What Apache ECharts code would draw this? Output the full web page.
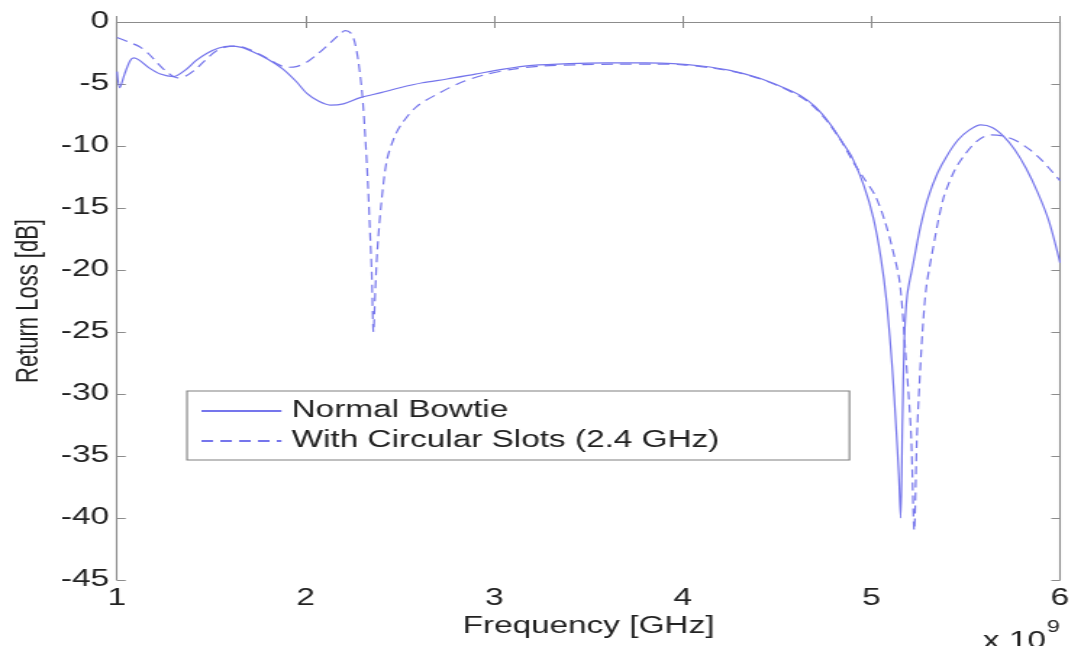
<!DOCTYPE html>
<html>
<head>
<meta charset="utf-8">
<script src="https://cdn.jsdelivr.net/npm/echarts@6/dist/echarts.min.js"></script>
<style>
  html, body { margin: 0; padding: 0; background: #ffffff; }
  #frame { width: 1081px; height: 646px; overflow: hidden; position: relative; }
  /* the figure is laid out narrow and widened, giving the broad lettering of the printed plot */
  #chart { width: 746px; height: 646px; transform-origin: 0 0; transform: scaleX(1.44906); }
</style>
</head>
<body>
<div id="frame"><div id="chart"></div></div>
<script>
// Return loss of the bowtie antenna, frequency in GHz
const freqNormal = [
  1.00, 1.015, 1.04, 1.07, 1.09, 1.12, 1.17, 1.23, 1.30, 1.36, 1.42, 1.48, 1.54, 1.60, 1.66,
  1.72, 1.80, 1.88, 1.95, 2.01, 2.07, 2.13, 2.20, 2.29, 2.40, 2.50, 2.62, 2.75, 2.90, 3.05,
  3.20, 3.40, 3.60, 3.80, 3.95, 4.10, 4.25, 4.40, 4.52, 4.62, 4.70, 4.78, 4.85, 4.90, 4.96,
  5.01, 5.05, 5.08, 5.11, 5.13, 5.145, 5.155, 5.165, 5.175, 5.19, 5.22, 5.26, 5.30, 5.35, 5.40,
  5.46, 5.52, 5.58, 5.64, 5.70, 5.76, 5.82, 5.88, 5.94, 6.00
];
const rlNormal = [
  -4.0, -5.3, -4.2, -3.1, -2.9, -3.1, -3.7, -4.2, -4.4, -3.9, -3.1, -2.5, -2.1, -1.95, -2.05,
  -2.4, -3.0, -3.8, -4.8, -5.8, -6.4, -6.7, -6.6, -6.1, -5.7, -5.3, -4.9, -4.6, -4.2, -3.8,
  -3.5, -3.35, -3.3, -3.3, -3.35, -3.55, -3.9, -4.5, -5.2, -5.9, -6.8, -8.2, -9.8, -11.0, -13.2,
  -15.8, -19.0, -22.5, -27.8, -32.5, -36.5, -40.0, -32.0, -25.5, -22.0, -19.6, -16.5, -14.2, -12.2, -10.8,
  -9.5, -8.7, -8.3, -8.5, -9.2, -10.3, -11.8, -13.7, -16.0, -19.4
];

const freqSlots = [
  1.00, 1.06, 1.12, 1.17, 1.22, 1.27, 1.32, 1.36, 1.41, 1.46, 1.52, 1.58, 1.64, 1.70, 1.77,
  1.84, 1.90, 1.95, 2.01, 2.07, 2.13, 2.18, 2.21, 2.24, 2.26, 2.28, 2.30, 2.315, 2.33, 2.34,
  2.35, 2.36, 2.37, 2.38, 2.40, 2.43, 2.47, 2.51, 2.59, 2.70, 2.82, 2.95, 3.10, 3.25, 3.45,
  3.65, 3.85, 4.00, 4.15, 4.30, 4.45, 4.57, 4.67, 4.76, 4.84, 4.90, 4.96, 5.02, 5.07, 5.11,
  5.15, 5.18, 5.21, 5.227, 5.24, 5.25, 5.27, 5.29, 5.32, 5.38, 5.44, 5.49, 5.56, 5.63, 5.70,
  5.77, 5.84, 5.90, 5.96, 6.00
];
const rlSlots = [
  -1.25, -1.6, -2.0, -2.6, -3.4, -4.1, -4.5, -4.4, -3.9, -3.2, -2.4, -2.0, -1.95, -2.2, -2.7,
  -3.3, -3.65, -3.6, -3.2, -2.5, -1.7, -1.0, -0.7, -0.9, -1.6, -3.2, -5.8, -9.0, -13.0, -16.5,
  -20.0, -25.0, -21.5, -18.5, -14.8, -11.2, -9.3, -8.2, -6.8, -5.8, -4.9, -4.25, -3.8, -3.55, -3.45,
  -3.4, -3.4, -3.45, -3.7, -4.1, -4.8, -5.6, -6.5, -7.9, -9.6, -11.2, -12.6, -14.0, -16.0, -18.2,
  -21.0, -26.5, -33.2, -41.0, -34.0, -30.5, -25.1, -21.5, -18.8, -14.3, -12.0, -10.8, -9.6, -9.1, -9.2,
  -9.6, -10.3, -11.1, -12.1, -12.8
];

const seriesNames = ['Normal Bowtie', 'With Circular Slots (2.4 GHz)'];
const xTitle = 'Frequency [GHz]';
const yTitle = 'Return Loss [dB]';

const pairs = (xs, ys) => xs.map((x, i) => [x, ys[i]]);

// horizontal widening applied by the CSS transform; x positions below are given in final pixels
const S = 1081 / 746;
const px = v => v / S;

const FONT = '"Liberation Sans", Arial, Helvetica, sans-serif';
const LINE = '#7575ec';
const AXIS = '#8c8c8c';
const TEXT = '#222222';

const boxAxis = {
  axisLine: { show: true, lineStyle: { color: AXIS, width: 1.1 } },
  axisTick: { show: true, inside: true, length: 6, lineStyle: { color: AXIS, width: 1 } },
  splitLine: { show: false }
};

const chart = echarts.init(document.getElementById('chart'), null, { renderer: 'canvas' });
chart.setOption({
  backgroundColor: '#ffffff',
  animation: false,
  grid: { left: px(117), right: px(21), top: 22, bottom: 66, containLabel: false },
  legend: {
    orient: 'vertical',
    left: px(187),
    top: 391,
    data: seriesNames,
    itemWidth: px(80),
    itemHeight: 14,
    itemGap: 6,
    padding: [8, px(130), 7, px(13)],
    borderColor: '#808080',
    borderWidth: 1.1,
    backgroundColor: '#ffffff',
    selectedMode: false,
    itemStyle: { opacity: 0, color: 'rgba(0,0,0,0)', borderWidth: 0 },
    textStyle: { fontFamily: FONT, fontSize: 23, color: TEXT, lineHeight: 24, padding: [0, 0, 0, 2] }
  },
  xAxis: [
    Object.assign({
      type: 'value', position: 'bottom', min: 1, max: 6, interval: 1,
      name: xTitle, nameLocation: 'middle', nameGap: 30,
      nameTextStyle: { fontFamily: FONT, fontSize: 23, color: TEXT },
      axisLabel: { fontFamily: FONT, fontSize: 23, color: TEXT, margin: 7 }
    }, boxAxis),
    Object.assign({
      type: 'value', position: 'top', min: 1, max: 6, interval: 1,
      axisLabel: { show: false }
    }, boxAxis)
  ],
  yAxis: [
    Object.assign({
      type: 'value', position: 'left', min: -45, max: 0, interval: 5,
      name: yTitle, nameLocation: 'middle', nameGap: 50, nameRotate: 90,
      nameTextStyle: { fontFamily: FONT, fontSize: 22, color: TEXT },
      axisLabel: { fontFamily: FONT, fontSize: 23, color: TEXT, margin: px(8) }
    }, boxAxis),
    Object.assign({
      type: 'value', position: 'right', min: -45, max: 0, interval: 5,
      axisLabel: { show: false }
    }, boxAxis)
  ],
  series: [
    {
      name: seriesNames[0], type: 'line', xAxisIndex: 0, yAxisIndex: 0,
      data: pairs(freqNormal, rlNormal),
      showSymbol: false, symbol: 'none', smooth: 0.3,
      lineStyle: { color: LINE, width: 1.2, type: 'solid' },
      itemStyle: { color: LINE }
    },
    {
      name: seriesNames[1], type: 'line', xAxisIndex: 0, yAxisIndex: 0,
      data: pairs(freqSlots, rlSlots),
      showSymbol: false, symbol: 'none', smooth: 0.3,
      lineStyle: { color: LINE, width: 1.2, type: [8, 5] },
      itemStyle: { color: LINE }
    }
  ],
  graphic: [
    { type: 'text', left: px(983), top: 630, style: { text: 'x 10', fontFamily: FONT, fontSize: 23, fill: TEXT } },
    { type: 'text', left: px(1047), top: 620, style: { text: '9', fontFamily: FONT, fontSize: 16, fill: TEXT } }
  ]
});
</script>
</body>
</html>
